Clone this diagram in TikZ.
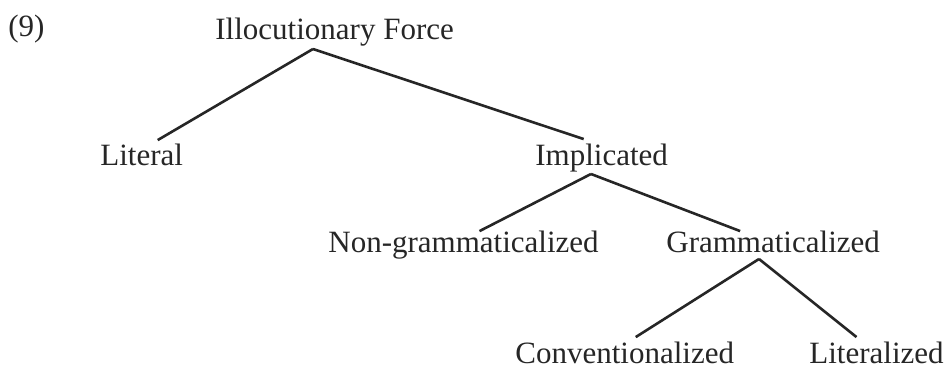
\documentclass[tikz,border=0pt]{standalone}
\usepackage{fontspec}
\setmainfont{Liberation Serif}
\usepackage{tikz}
\usetikzlibrary{calc}
\definecolor{inkGray}{RGB}{38, 38, 38}

\begin{document}
\begin{tikzpicture}[x=0.5pt, y=-0.5pt,
        label/.style={anchor=base west, inner sep=0pt, text=inkGray, font=\fontsize{15.5}{18}\selectfont},
        branch/.style={draw=inkGray, line width=1.3pt}]
        \useasboundingbox (0,0) rectangle (944,368);
        \node[label] (num) at (8,37) {(9)};
        \node[label] (force) at (215,40) {Illocutionary Force};
        \node[label] (literal) at (100,166) {Literal};
        \node[label] (implicated) at (535,166) {Implicated};
        \node[label] (nongram) at (328,253) {Non-grammaticalized};
        \node[label] (gram) at (666,253) {Grammaticalized};
        \node[label] (conv) at (515,364) {Conventionalized};
        \node[label] (literalized) at (809,364) {Literalized};
        \coordinate (forceFork) at ($(force.base west)+(98,9)$);
        \coordinate (implFork) at ($(implicated.base west)+(56,8)$);
        \coordinate (gramFork) at ($(gram.base west)+(93,6)$);
        \draw[branch] (forceFork) -- ($(literal.north)+(16,-4)$);
        \draw[branch] (forceFork) -- ($(implicated.north)+(-18,-5)$);
        \draw[branch] (implFork) -- ($(nongram.north)+(16,0)$);
        \draw[branch] (implFork) -- ($(gram.north)+(-33,0)$);
        \draw[branch] (gramFork) -- ($(conv.north)+(11,-5)$);
        \draw[branch] (gramFork) -- ($(literalized.north)+(-20,-5)$);
\end{tikzpicture}
\end{document}
